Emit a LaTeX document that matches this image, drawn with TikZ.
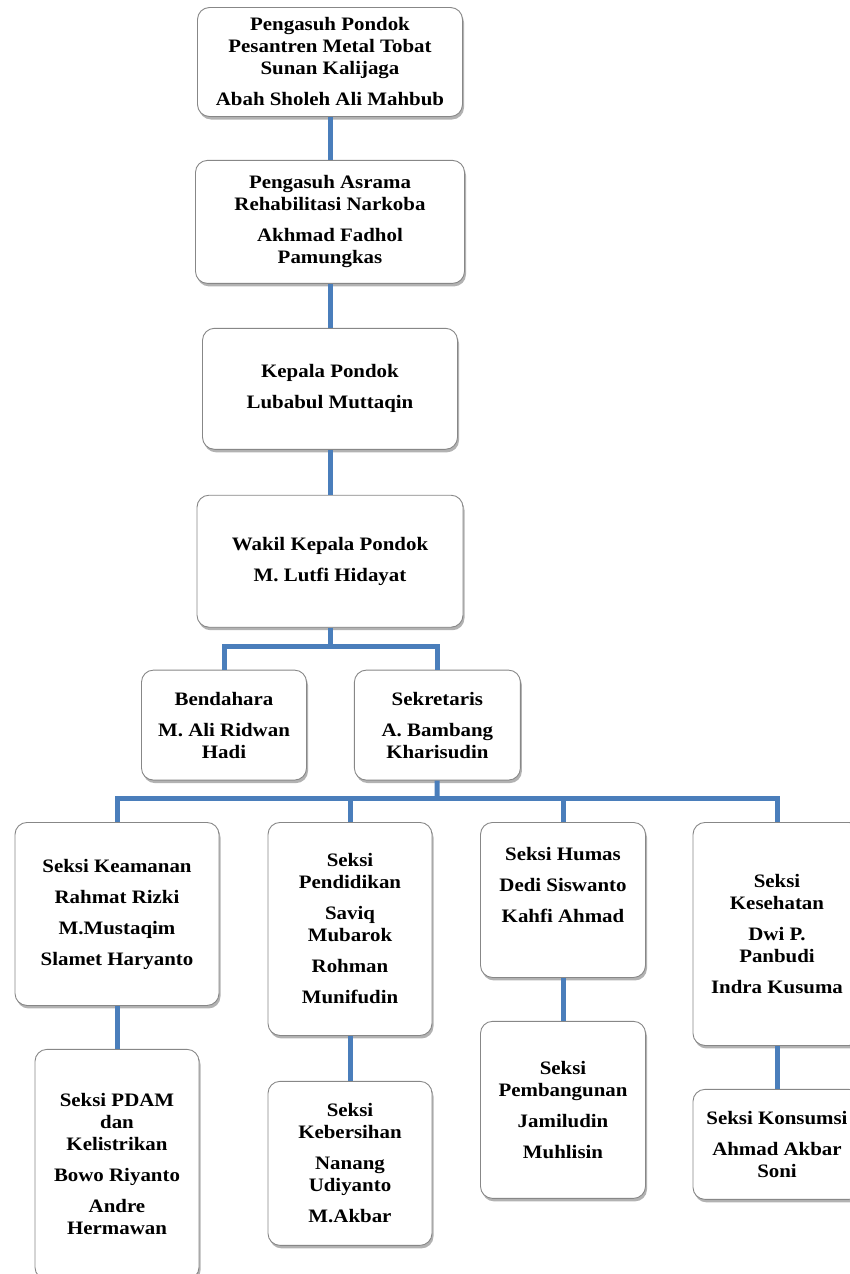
\documentclass[tikz,border=0pt]{standalone}
\usepackage{fontspec}
\setmainfont{Liberation Serif}[FakeStretch=1.1]
\usetikzlibrary{positioning,shadows}
\definecolor{garisbiru}{RGB}{74,126,187}
\definecolor{tepi}{RGB}{135,135,135}

\begin{document}
\begin{tikzpicture}[x=1pt,y=-1pt,
  kotak/.style={draw=tepi, line width=0.9pt, fill=white, rounded corners=12pt,
    drop shadow={shadow xshift=1.5pt, shadow yshift=-3pt, opacity=0.3, fill=black},
    align=center, inner sep=2pt,
    font=\bfseries\fontsize{19}{22}\selectfont},
  garis/.style={draw=garisbiru, line width=5pt}]
\useasboundingbox (0,0) rectangle (849,1274);

\node[kotak, minimum width=265pt, minimum height=109pt] (pengasuh) at (330,62)
  {Pengasuh Pondok\\ Pesantren Metal Tobat\\ Sunan Kalijaga\\[9pt] Abah Sholeh Ali Mahbub};
\node[kotak, below=43pt of pengasuh, minimum width=269pt, minimum height=123pt] (asrama)
  {Pengasuh Asrama\\ Rehabilitasi Narkoba\\[9pt] Akhmad Fadhol\\ Pamungkas};
\node[kotak, below=44pt of asrama, minimum width=255pt, minimum height=121pt] (kepala)
  {Kepala Pondok\\[9pt] Lubabul Muttaqin};
\node[kotak, below=45pt of kepala, minimum width=266pt, minimum height=132pt] (wakil)
  {Wakil Kepala Pondok\\[9pt] M. Lutfi Hidayat};
\node[kotak, below=42pt of wakil, xshift=-106pt, minimum width=165pt, minimum height=110pt] (bendahara)
  {Bendahara\\[9pt] M. Ali Ridwan\\ Hadi};
\node[kotak, right=47pt of bendahara, minimum width=166pt, minimum height=110pt] (sekretaris)
  {Sekretaris\\[9pt] A. Bambang\\ Kharisudin};

% seksi baris pertama
\node[kotak, anchor=north, minimum width=204pt, minimum height=183pt] (keamanan) at (117,822)
  {Seksi Keamanan\\[9pt] Rahmat Rizki\\[9pt] M.Mustaqim\\[9pt] Slamet Haryanto};
\node[kotak, anchor=north, minimum width=164pt, minimum height=213pt] (pendidikan) at (350,822)
  {Seksi\\ Pendidikan\\[9pt] Saviq\\ Mubarok\\[9pt] Rohman\\[9pt] Munifudin};
\node[kotak, anchor=north, minimum width=165pt, minimum height=155pt] (humas) at (563,822)
  {Seksi Humas\\[9pt] Dedi Siswanto\\[9pt] Kahfi Ahmad\\[9pt] \mbox{}};
\node[kotak, anchor=north, minimum width=168pt, minimum height=223pt] (kesehatan) at (777,822)
  {Seksi\\ Kesehatan\\[9pt] Dwi P.\\ Panbudi\\[9pt] Indra Kusuma};

% seksi baris kedua
\node[kotak, below=43pt of keamanan, minimum width=164pt, minimum height=230pt] (pdam)
  {Seksi PDAM\\ dan\\ Kelistrikan\\[9pt] Bowo Riyanto\\[9pt] Andre\\ Hermawan};
\node[kotak, below=45pt of pendidikan, minimum width=164pt, minimum height=164pt] (kebersihan)
  {Seksi\\ Kebersihan\\[9pt] Nanang\\ Udiyanto\\[9pt] M.Akbar};
\node[kotak, below=43pt of humas, minimum width=165pt, minimum height=177pt] (pembangunan)
  {Seksi\\ Pembangunan\\[9pt] Jamiludin\\[9pt] Muhlisin};
\node[kotak, below=43pt of kesehatan, minimum width=168pt, minimum height=110pt] (konsumsi)
  {Seksi Konsumsi\\[9pt] Ahmad Akbar\\ Soni};

\coordinate (cabang1) at (330,646);
\coordinate (cabang2) at (437,798);

\draw[garis] (pengasuh) -- (asrama);
\draw[garis] (asrama) -- (kepala);
\draw[garis] (kepala) -- (wakil);
\draw[garis] (wakil) -- (cabang1);
\draw[garis] (cabang1) -| (bendahara);
\draw[garis] (cabang1) -| (sekretaris);
\draw[garis] (sekretaris) -- (cabang2);
\draw[garis] (cabang2) -| (keamanan);
\draw[garis] (cabang2) -| (pendidikan);
\draw[garis] (cabang2) -| (humas);
\draw[garis] (cabang2) -| (kesehatan);
\draw[garis] (keamanan) -- (pdam);
\draw[garis] (pendidikan) -- (kebersihan);
\draw[garis] (humas) -- (pembangunan);
\draw[garis] (kesehatan) -- (konsumsi);
\end{tikzpicture}
\end{document}
